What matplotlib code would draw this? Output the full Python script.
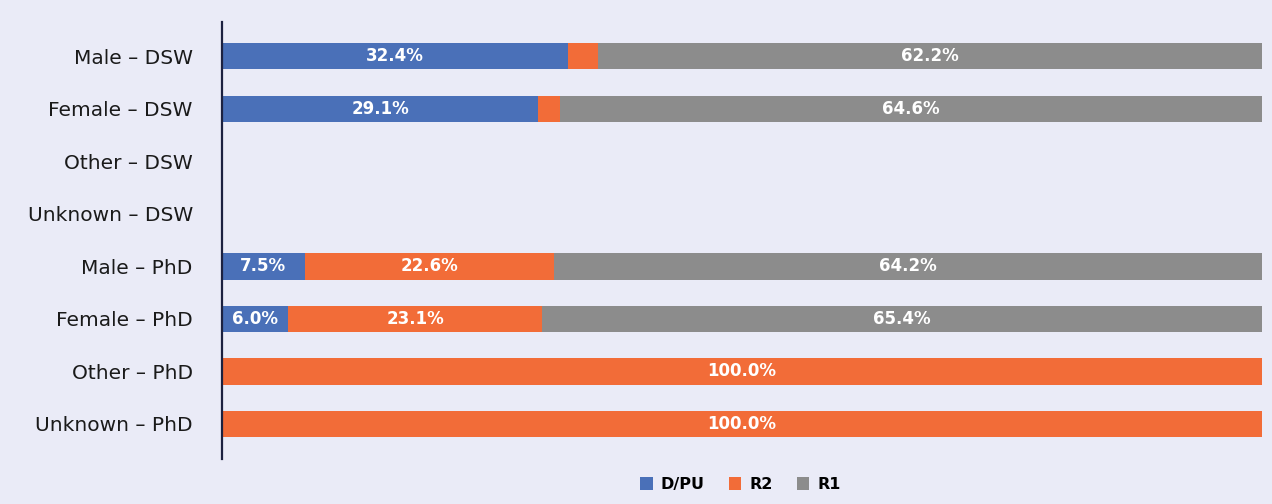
import numpy as np
import matplotlib.pyplot as plt

# Rows and the shares shown in each stacked bar (percent of all records)
categories = ["Male – DSW", "Female – DSW", "Other – DSW", "Unknown – DSW",
              "Male – PhD", "Female – PhD", "Other – PhD", "Unknown – PhD"]
dpu = [32.4, 29.1, 0, 0, 7.5, 6.0, 0, 0]
r2 = [2.8, 2.0, 0, 0, 22.6, 23.1, 100.0, 100.0]
r1 = [62.2, 64.6, 0, 0, 64.2, 65.4, 0, 0]

series = [("D/PU", dpu, "#4a70b8"), ("R2", r2, "#f26c38"), ("R1", r1, "#8c8c8c")]

bg = "#eaebf7"
fig = plt.figure(figsize=(12.72, 5.04), dpi=100, facecolor=bg)
ax = fig.add_axes([0.1745, 0.089, 0.8175, 0.867])
ax.set_facecolor(bg)

totals = np.array(dpu) + np.array(r2) + np.array(r1)
totals[totals == 0] = 1
y = np.arange(len(categories))
left = np.zeros(len(categories))
for name, vals, col in series:
    vals = np.array(vals)
    w = vals / totals * 100
    bars = ax.barh(y, w, left=left, height=0.5, color=col, label=name)
    for b, v in zip(bars, vals):
        if v >= 5:
            ax.text(b.get_x() + b.get_width() / 2, b.get_y() + b.get_height() / 2,
                    f"{v:.1f}%", ha="center", va="center", color="white",
                    fontsize=12, fontweight="bold")
    left += w

ax.set_xlim(0, 100)
ax.set_ylim(len(categories) - 1 + 0.67, -0.65)
ax.set_yticks(y)
ax.set_yticklabels(categories, fontsize=14.5, color="#1a1a1a")
ax.tick_params(axis="y", length=0, pad=21)
ax.set_xticks([])
for s in ["top", "right", "bottom"]:
    ax.spines[s].set_visible(False)
ax.spines["left"].set_color("#1c2140")
ax.spines["left"].set_linewidth(1.6)

fig.legend(loc="lower center", bbox_to_anchor=(0.582, -0.005), ncol=3, frameon=False,
           prop={"weight": "bold", "size": 11.5}, handlelength=0.8, handleheight=0.9,
           columnspacing=1.5, handletextpad=0.5)

fig.savefig("out.png", dpi=100, facecolor=bg)
